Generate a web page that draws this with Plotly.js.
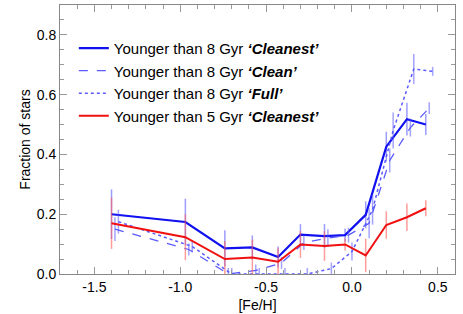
<!DOCTYPE html>
<html>
<head>
<meta charset="utf-8">
<script src="https://cdn.plot.ly/plotly-3.0.1.min.js"></script>
<style>html,body{margin:0;padding:0;background:#fff;}#chart{width:463px;height:314px;}</style>
</head>
<body>
<div id="chart"></div>
<script>
// [Fe/H] bin centres
var feh = [-1.40, -0.97, -0.74, -0.58, -0.43, -0.30, -0.16, -0.04, 0.08, 0.20, 0.32, 0.43];
var fehClean = [-1.38, -0.95, -0.72, -0.56, -0.41, -0.28, -0.14, -0.02, 0.10, 0.22, 0.34, 0.45];
var fehFull = [-1.36, -0.93, -0.70, -0.54, -0.39, -0.26, -0.12, 0.00, 0.12, 0.24, 0.36, 0.47];

// Younger than 8 Gyr 'Cleanest'
var y8Cleanest = [0.200, 0.174, 0.086, 0.089, 0.057, 0.132, 0.127, 0.130, 0.198, 0.426, 0.518, 0.500];
var e8Cleanest = [0.083, 0.078, 0.060, 0.040, 0.035, 0.035, 0.040, 0.022, 0.045, 0.050, 0.055, 0.035];
// Younger than 8 Gyr 'Clean'
var y8Clean = [0.150, 0.082, 0.000, 0.012, 0.037, 0.105, 0.120, 0.130, 0.170, 0.380, 0.490, 0.555];
var e8Clean = [0.040, 0.020, 0.020, 0.020, 0.020, 0.025, 0.030, 0.025, 0.050, 0.040, 0.030, 0.020];
// Younger than 8 Gyr 'Full'
var y8Full = [0.175, 0.092, 0.000, 0.000, 0.000, 0.000, 0.018, 0.075, 0.215, 0.480, 0.686, 0.678];
var e8Full = [0.040, 0.020, 0.020, 0.020, 0.020, 0.020, 0.020, 0.030, 0.050, 0.060, 0.050, 0.015];
// Younger than 5 Gyr 'Cleanest'
var y5Cleanest = [0.170, 0.123, 0.050, 0.055, 0.041, 0.099, 0.094, 0.099, 0.062, 0.164, 0.190, 0.220];
var e5Cleanest = [0.086, 0.077, 0.060, 0.060, 0.045, 0.045, 0.050, 0.020, 0.056, 0.046, 0.046, 0.027];

var names = [
  "Younger than 8 Gyr <b><i>\u2018Cleanest\u2019</i></b>",
  "Younger than 8 Gyr <b><i>\u2018Clean\u2019</i></b>",
  "Younger than 8 Gyr <b><i>\u2018Full\u2019</i></b>",
  "Younger than 5 Gyr <b><i>\u2018Cleanest\u2019</i></b>"
];

function tr(x, y, e, name, color, dash, width, ecol) {
  return {
    x: x, y: y, name: name, type: 'scatter', mode: 'lines',
    line: {color: color, dash: dash, width: width},
    error_y: {type: 'data', array: e, visible: true, width: 0, thickness: 1.5, color: ecol}
  };
}

var data = [
  tr(feh, y8Cleanest, e8Cleanest, names[0], '#1010f0', 'solid', 2.2, 'rgba(90,90,255,0.6)'),
  tr(fehClean, y8Clean, e8Clean, names[1], '#5a5aff', 'dash', 1.3, 'rgba(90,90,255,0.55)'),
  tr(fehFull, y8Full, e8Full, names[2], '#5a5aff', 'dot', 1.5, 'rgba(90,90,255,0.55)'),
  tr(feh, y5Cleanest, e5Cleanest, names[3], '#f01010', 'solid', 2.0, 'rgba(255,90,90,0.6)')
];

var axisCommon = {
  showgrid: false, zeroline: false, showline: true, linecolor: '#888', linewidth: 1,
  mirror: 'ticks', ticks: 'inside', ticklen: 7, tickcolor: '#999', tickwidth: 1,
  tickfont: {family: 'Liberation Sans, Arial, sans-serif', size: 14, color: '#000'}
};

var layout = {
  width: 463, height: 314,
  margin: {l: 60, r: 8, t: 5, b: 40},
  paper_bgcolor: '#fff', plot_bgcolor: '#fff',
  showlegend: true,
  legend: {
    x: 0.035, y: 0.9, xanchor: 'left', yanchor: 'top',
    bgcolor: 'rgba(0,0,0,0)', borderwidth: 0,
    font: {family: 'Liberation Sans, Arial, sans-serif', size: 15, color: '#000'},
    tracegroupgap: 0, itemwidth: 30
  },
  xaxis: Object.assign({}, axisCommon, {
    range: [-1.7, 0.6], tickvals: [-1.5, -1.0, -0.5, 0.0, 0.5], ticktext: ['-1.5', '-1.0', '-0.5', '0.0', '0.5'],
    minor: {ticks: 'inside', dtick: 0.1, tick0: 0, ticklen: 4, tickcolor: '#999', showgrid: false},
    title: {text: '[Fe/H]', font: {family: 'Liberation Sans, Arial, sans-serif', size: 14, color: '#000'}, standoff: 6}
  }),
  yaxis: Object.assign({}, axisCommon, {
    range: [0, 0.9], tickvals: [0, 0.2, 0.4, 0.6, 0.8], ticktext: ['0.0', '0.2', '0.4', '0.6', '0.8'],
    minor: {ticks: 'inside', dtick: 0.05, tick0: 0, ticklen: 4, tickcolor: '#999', showgrid: false},
    title: {text: 'Fraction of stars', font: {family: 'Liberation Sans, Arial, sans-serif', size: 14, color: '#000'}, standoff: 2}
  })
};

Plotly.newPlot('chart', data, layout, {displayModeBar: false, staticPlot: true});
</script>
</body>
</html>
